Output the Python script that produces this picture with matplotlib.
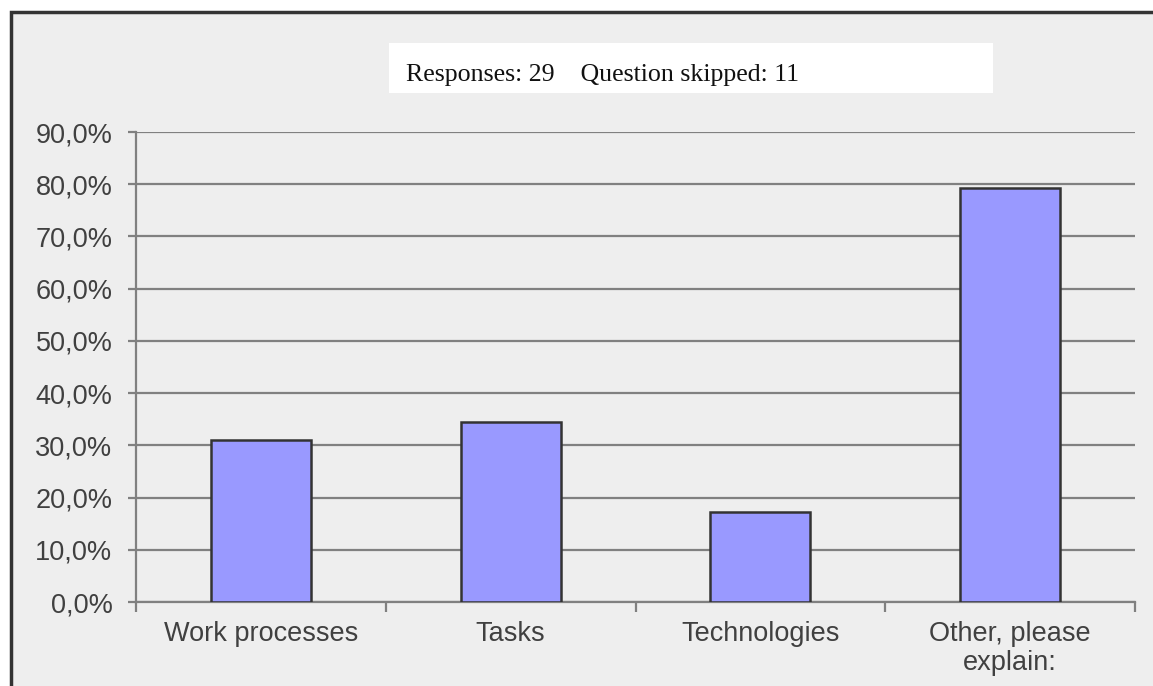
import matplotlib
matplotlib.use("Agg")
import matplotlib.pyplot as plt
from matplotlib.patches import Rectangle
from matplotlib.ticker import FuncFormatter

categories = ["Work processes", "Tasks", "Technologies", "Other, please\nexplain:"]
values = [31.0, 34.5, 17.2, 79.3]
yticks = [0, 10, 20, 30, 40, 50, 60, 70, 80, 90]
header = "Responses: 29    Question skipped: 11"

W, H = 1153, 686
fig = plt.figure(figsize=(W / 100, H / 100), dpi=100, facecolor="white")

# background panel with left/top dark border
fig.patches.append(Rectangle((11 / W, -0.01), 1.1, (H - 12) / H + 0.01,
                             transform=fig.transFigure, facecolor="#eeeeee",
                             edgecolor="#333333", linewidth=2.5, zorder=0))
# white header box
fig.patches.append(Rectangle((389 / W, 1 - 93 / H), (993 - 389) / W, 50 / H,
                             transform=fig.transFigure, facecolor="white",
                             edgecolor="none", zorder=1))
fig.text(406 / W, 1 - 81 / H, header, family="Liberation Serif", fontsize=18.6,
         va="baseline", ha="left", color="#111111", zorder=2)

ax = fig.add_axes([136 / W, 1 - 602 / H, (1135 - 136) / W, (602 - 132) / H])
ax.set_zorder(5)
ax.set_facecolor("none")
x = list(range(len(categories)))
ax.bar(x, values, width=0.4, color="#9999ff", edgecolor="#333333", linewidth=1.8, zorder=3)
ax.set_xlim(-0.5, len(categories) - 0.5)
ax.set_ylim(0, 90)
ax.set_yticks(yticks)
ax.yaxis.set_major_formatter(FuncFormatter(lambda v, p: f"{v:.1f}%".replace(".", ",")))
ax.grid(axis="y", color="#808080", linewidth=1.6, zorder=1)
for s in ["top", "right"]:
    ax.spines[s].set_visible(False)
for s in ["left", "bottom"]:
    ax.spines[s].set_color("#808080")
    ax.spines[s].set_linewidth(1.6)
ax.set_xticks([i + 0.5 for i in range(-1, len(categories))])
ax.set_xticklabels([])
ax.set_xticks(x, minor=True)
ax.set_xticklabels(categories, minor=True, family="Liberation Sans", fontsize=19.5,
                   color="#404040", linespacing=1.15)
ax.tick_params(axis="x", which="minor", length=0, pad=14)
ax.tick_params(axis="x", which="major", length=7, width=1.6, color="#808080", direction="out")
ax.tick_params(axis="y", length=5.5, width=1.6, color="#808080", pad=11.5,
               labelsize=19.5, labelcolor="#404040")
for lab in ax.get_yticklabels():
    lab.set_family("Liberation Sans")

fig.savefig("out.png", dpi=100, facecolor="white")
